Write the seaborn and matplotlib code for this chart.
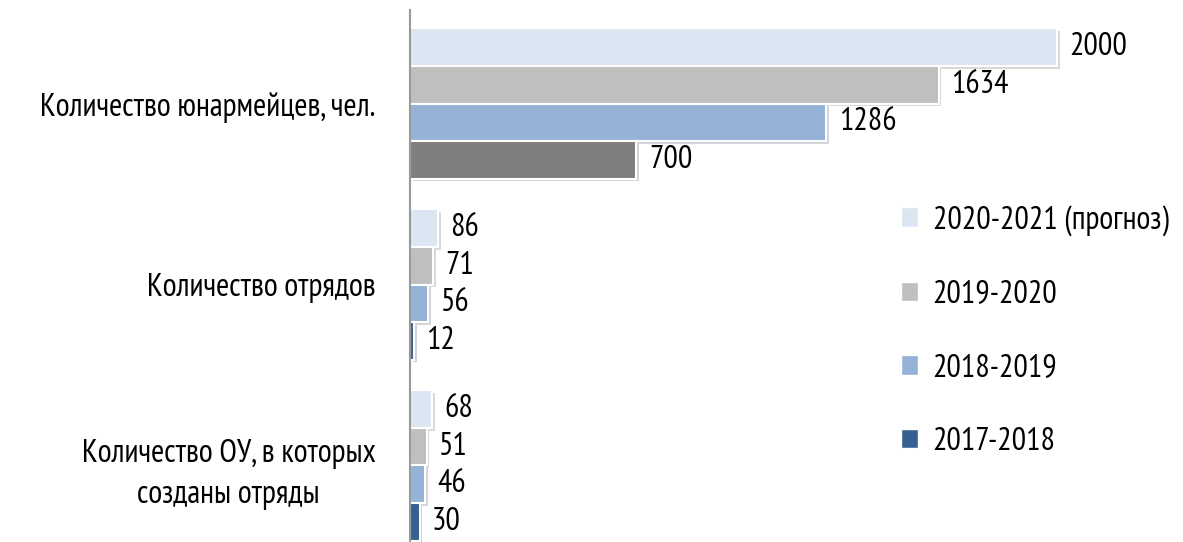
import matplotlib
matplotlib.use("Agg")
import matplotlib.pyplot as plt
import matplotlib.patheffects as pe
from matplotlib import font_manager
from matplotlib.patches import Patch
import pandas as pd
import seaborn as sns

categories = ["Количество юнармейцев, чел.",
              "Количество отрядов",
              "Количество ОУ, в которых\nсозданы отряды"]
periods = ["2020-2021 (прогноз)", "2019-2020", "2018-2019", "2017-2018"]
values_2020_2021 = [2000, 86, 68]
values_2019_2020 = [1634, 71, 51]
values_2018_2019 = [1286, 56, 46]
values_2017_2018 = [700, 12, 30]
colors = ["#dce6f2", "#bfbfbf", "#95b3d7", "#376092"]

sns.set_theme(style="white")

# narrow font like the original if there is one, else DejaVu a bit smaller
candidates = ["PT Sans Narrow", "Roboto Condensed", "Fira Sans Condensed",
              "Liberation Sans Narrow"]
installed = {f.name for f in font_manager.fontManager.ttflist}
family = next((c for c in candidates if c in installed), "DejaVu Sans")
fs = 23 if family != "DejaVu Sans" else 15
plt.rcParams['font.family'] = [family, 'DejaVu Sans']

rows = []
for period, vals in zip(periods, [values_2020_2021, values_2019_2020,
                                  values_2018_2019, values_2017_2018]):
    for cat, v in zip(categories, vals):
        rows.append({"category": cat, "period": period, "value": v})
df = pd.DataFrame(rows)

fig = plt.figure(figsize=(11.83, 5.42), dpi=100)
ax = fig.add_axes([410 / 1183, 0, 773 / 1183, 532 / 542])

sns.barplot(data=df, y="category", x="value", hue="period", orient="h",
            hue_order=periods, palette=colors, saturation=1, width=0.83, ax=ax,
            edgecolor="white", linewidth=1.5, legend=False)

shadow = [pe.SimplePatchShadow(offset=(2, -2), alpha=0.2), pe.Normal()]
for cont in ax.containers:
    for bar in cont:
        bar.set_path_effects(shadow)
    ax.bar_label(cont, padding=9, fontsize=fs, color="black")

# the 700 bar is gray in the original
ax.containers[3][0].set_facecolor("#7f7f7f")

ax.set_xlim(0, 2389)
ax.set_ylim(2.423, -0.517)
ax.set_xlabel("")
ax.set_ylabel("")
ax.set_xticks([])
ax.tick_params(axis="y", length=0, pad=25, labelsize=fs)
for lbl in ax.get_yticklabels():
    lbl.set_multialignment("center")
    lbl.set_linespacing(1.5)
    lbl.set_color("black")

for side in ["top", "right", "bottom"]:
    ax.spines[side].set_visible(False)
ax.spines["left"].set_color("#999999")
ax.spines["left"].set_linewidth(1.5)

handles = [Patch(facecolor=c, edgecolor="white") for c in colors]
leg = fig.legend(handles, periods, loc="upper left",
                 bbox_to_anchor=(888 / 1183, 1 - 192 / 542),
                 frameon=False, fontsize=fs, handlelength=0.55, handleheight=0.55,
                 handletextpad=0.45, labelspacing=1.37, borderaxespad=0)
for t in leg.get_texts():
    t.set_color("black")

fig.savefig("out.png", dpi=100)
